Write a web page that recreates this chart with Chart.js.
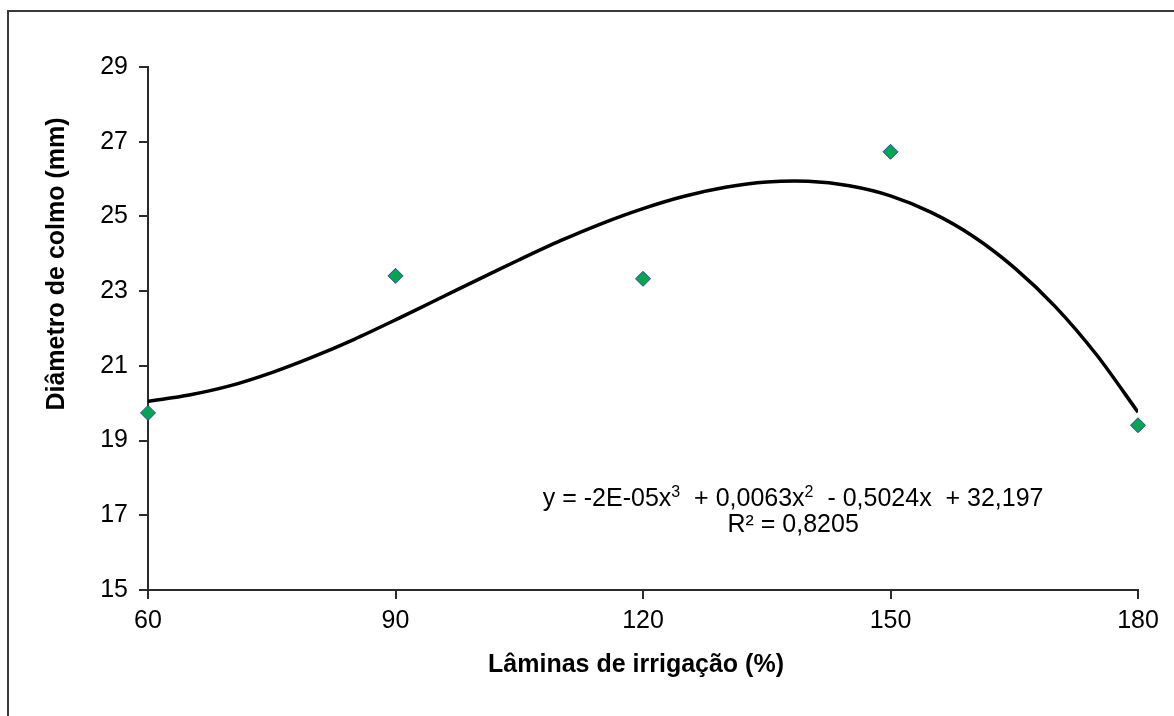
<!DOCTYPE html>
<html>
<head>
<meta charset="utf-8">
<script src="https://cdn.jsdelivr.net/npm/chart.js@4"></script>
<style>
  body { margin: 0; background: #ffffff; }
  #grafica { display: block; }
</style>
</head>
<body>
<canvas id="grafica" width="1174" height="716"></canvas>
<script>
// valores
var laminas = [60, 90, 120, 150, 180];
var diametro = [19.74, 23.41, 23.33, 26.73, 19.41];

// linea de tendencia (polinomica de orden 3) leida punto a punto
var curvaX = [60, 65, 70, 75, 80, 85, 90, 95, 100, 105, 110, 115, 120, 125, 130, 135, 140, 145, 150, 155, 160, 165, 170, 175, 180];
var curvaY = [20.05, 20.22, 20.47, 20.82, 21.24, 21.71, 22.23, 22.77, 23.31, 23.84, 24.35, 24.81, 25.21, 25.54, 25.78, 25.92, 25.94, 25.82, 25.55, 25.1, 24.47, 23.63, 22.58, 21.29, 19.76];

var ticksX = [60, 90, 120, 150, 180];
var ticksY = [15, 17, 19, 21, 23, 25, 27, 29];

var tituloX = "Lâminas de irrigação (%)";
var tituloY = "Diâmetro de colmo (mm)";
// ecuacion: [texto, es superindice]
var ecuacion = [["y = -2E-05x", false], ["3", true], ["  + 0,0063x", false], ["2", true], ["  - 0,5024x  + 32,197", false]];
var r2 = "R² = 0,8205";

var FUENTE = "'Liberation Sans', Arial, sans-serif";
var COLOR_EJE = "#2b2b2b";

function unirPuntos(xs, ys) {
    var puntos = [];
    for (var i = 0; i < xs.length; i++) {
        puntos.push({x: xs[i], y: ys[i]});
    }
    return puntos;
}

function dibujarEcuacion(ctx, partes, cx, y) {
    var total = 0;
    partes.forEach(p => {
        ctx.font = (p[1] ? "16px " : "25px ") + FUENTE;
        total += ctx.measureText(p[0]).width;
    });
    var x = cx - total / 2;
    ctx.textAlign = "left";
    ctx.textBaseline = "alphabetic";
    partes.forEach(p => {
        ctx.font = (p[1] ? "16px " : "25px ") + FUENTE;
        ctx.fillText(p[0], x, p[1] ? y - 9 : y);
        x += ctx.measureText(p[0]).width;
    });
}

var textosExtra = {
    id: "textosExtra",
    beforeDraw: function (chart) {
        var ctx = chart.ctx;
        ctx.save();
        ctx.fillStyle = "#ffffff";
        ctx.fillRect(0, 0, chart.width, chart.height);
        ctx.strokeStyle = "#3a3a3a";
        ctx.lineWidth = 2;
        ctx.strokeRect(8, 11, chart.width + 20, chart.height + 20);
        ctx.restore();
    },
    afterDraw: function (chart) {
        var ctx = chart.ctx;
        var ex = chart.scales.x;
        var ey = chart.scales.y;
        ctx.save();
        ctx.fillStyle = "#000000";

        ctx.font = "bold 25px " + FUENTE;
        ctx.textAlign = "center";
        ctx.textBaseline = "middle";
        ctx.fillText(tituloX, 636, 665);

        ctx.translate(57, 264);
        ctx.rotate(-Math.PI / 2);
        ctx.fillText(tituloY, 0, 0);
        ctx.setTransform(1, 0, 0, 1, 0, 0);

        var cx = ex.getPixelForValue(138.2);
        dibujarEcuacion(ctx, ecuacion, cx, ey.getPixelForValue(17.25));
        ctx.font = "25px " + FUENTE;
        ctx.textAlign = "center";
        ctx.fillText(r2, cx, ey.getPixelForValue(16.55));
        ctx.restore();
    }
};

var ctx = document.getElementById("grafica").getContext("2d");

new Chart(ctx, {
    type: "scatter",
    data: {
        datasets: [{
            type: "scatter",
            data: unirPuntos(laminas, diametro),
            pointStyle: "rectRot",
            pointRadius: 7.5,
            pointHoverRadius: 7.5,
            backgroundColor: "#00a651",
            borderColor: "#34479a",
            borderWidth: 1,
            clip: false,
            order: 0
        }, {
            type: "line",
            data: unirPuntos(curvaX, curvaY),
            borderColor: "#000000",
            borderWidth: 3.5,
            pointRadius: 0,
            tension: 0.3,
            fill: false,
            order: 1
        }]
    },
    options: {
        responsive: false,
        animation: false,
        events: [],
        layout: {padding: {left: 0, top: 67, right: 36, bottom: 0}},
        plugins: {
            legend: {display: false},
            tooltip: {enabled: false}
        },
        scales: {
            x: {
                type: "linear",
                min: 60,
                max: 180,
                afterBuildTicks: function (escala) {
                    escala.ticks = ticksX.map(v => ({value: v}));
                },
                afterFit: function (escala) { escala.height = 126; },
                grid: {display: true, drawOnChartArea: false, drawTicks: true, tickLength: 9, color: COLOR_EJE, lineWidth: 2},
                border: {display: true, color: COLOR_EJE, width: 2},
                ticks: {color: "#000000", font: {family: FUENTE, size: 25}, padding: 7, maxRotation: 0}
            },
            y: {
                type: "linear",
                min: 15,
                max: 29,
                afterBuildTicks: function (escala) {
                    escala.ticks = ticksY.map(v => ({value: v}));
                },
                afterFit: function (escala) { escala.width = 148; },
                grid: {display: true, drawOnChartArea: false, drawTicks: true, tickLength: 9, color: COLOR_EJE, lineWidth: 2},
                border: {display: true, color: COLOR_EJE, width: 2},
                ticks: {color: "#000000", font: {family: FUENTE, size: 25}, padding: 11}
            }
        }
    },
    plugins: [textosExtra]
});
</script>
</body>
</html>
